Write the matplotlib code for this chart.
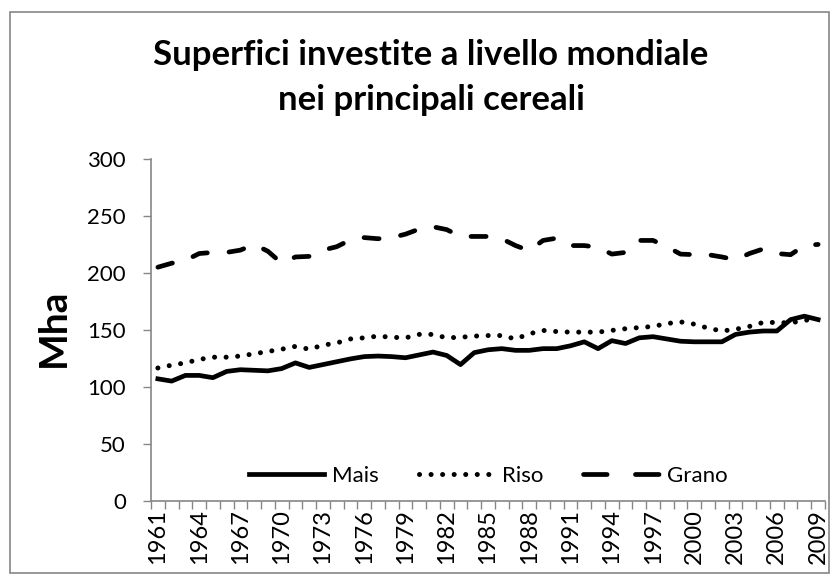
import matplotlib
matplotlib.use('Agg')
import matplotlib.pyplot as plt
from matplotlib.patches import Rectangle
from matplotlib.lines import Line2D

plt.rcParams['font.family'] = ['Lato', 'DejaVu Sans']

years = list(range(1961, 2010))

# superfici in Mha
mais = [107, 105, 110, 110, 108, 113.5, 115, 114.5, 114, 116,
        121, 117, 119.5, 122, 124.5, 126.5, 127, 126.5, 125.5, 128,
        130.5, 127.5, 119.5, 130, 132.5, 133.5, 132, 132, 133.5, 133.5,
        136, 139.5, 133.5, 140.5, 138, 143, 144, 142, 140, 139.5,
        139.5, 139.5, 146, 148, 149, 149, 159, 162, 159]
riso = [116.5, 119, 121, 124, 126, 126, 127, 129, 131, 133,
        135.5, 133, 136.5, 138.5, 142, 143, 144.5, 143.5, 143, 146,
        146, 143, 143.5, 144.5, 145, 145, 142, 146.5, 149.5, 148.5,
        148, 148, 148, 149.5, 151, 152, 153, 155.5, 157, 155,
        151.5, 149, 150.5, 153, 156.5, 156.5, 156, 158.5, 159]
grano = [205, 208.5, 211, 217, 218, 218, 220, 225, 219, 208.5,
         214, 214.5, 220, 223, 229, 231, 230, 231, 234, 238.5,
         240.5, 238, 232, 232, 232, 230, 224, 219.5, 228.5, 230.5,
         224, 224, 222.5, 216.5, 218, 228.5, 228.5, 223, 216.5, 216,
         216, 214, 211.5, 217, 221, 217, 216, 224, 225]

fig = plt.figure(figsize=(8.39, 5.82), dpi=100)
ax = fig.add_axes([151/839, 1 - 500.7/582, 674/839, 341.7/582])

x = list(range(len(years)))
dots = (0, (0.01, 2.3))
ax.plot(x, mais, color='black', lw=3.4, solid_joinstyle='round')
ax.plot(x, riso, color='black', lw=3.6, linestyle=dots, dash_capstyle='round')
ax.plot(x, grano, color='black', lw=3.4, linestyle=(0, (3.2, 4.6)),
        dash_capstyle='round')

ax.set_xlim(-0.5, len(years) - 0.5)
ax.set_ylim(0, 300)
ax.set_yticks(range(0, 301, 50))

ax.set_xticks(x[::3])
ax.set_xticklabels([str(y) for y in years[::3]], rotation=90)
ax.set_xticks([i - 0.5 for i in range(len(years) + 1)], minor=True)
ax.tick_params(axis='x', which='major', length=0, pad=6, labelsize=17)
ax.tick_params(axis='x', which='minor', length=6, width=1, color='#868686',
               direction='out')
ax.tick_params(axis='y', length=6, width=1, color='#868686', labelsize=16,
               pad=12)

for s in ['top', 'right']:
    ax.spines[s].set_visible(False)
for s in ['left', 'bottom']:
    ax.spines[s].set_color('#868686')
    ax.spines[s].set_linewidth(1.2)

fig.text(53/839, 1 - 328/582, 'Mha', rotation=90, ha='center', va='center',
         fontsize=28, fontweight='bold')

fig.text(431/839, 1 - 65/582, 'Superfici investite a livello mondiale',
         ha='center', va='baseline', fontsize=25, fontweight='bold')
fig.text(431/839, 1 - 110/582, 'nei principali cereali',
         ha='center', va='baseline', fontsize=25, fontweight='bold')

# voci di legenda con tratteggio adatto alla lunghezza del simbolo
handles = [
    Line2D([], [], color='black', lw=3.4),
    Line2D([], [], color='black', lw=3.6, linestyle=dots, dash_capstyle='round'),
    Line2D([], [], color='black', lw=3.4, linestyle=(0, (5.0, 6.0)),
           dash_capstyle='round'),
]
ax.legend(handles, ['Mais', 'Riso', 'Grano'], loc='center',
          bbox_to_anchor=(0.5, (500.7 - 476) / 341.7),
          ncol=3, frameon=False, fontsize=16, handlelength=3.4,
          handletextpad=0.35, columnspacing=1.8)

fig.patches.append(Rectangle((10/839, 1 - 573/582), 819/839, 561/582,
                             transform=fig.transFigure, fill=False,
                             edgecolor='#868686', lw=1.2))

fig.savefig('out.png', dpi=100)
